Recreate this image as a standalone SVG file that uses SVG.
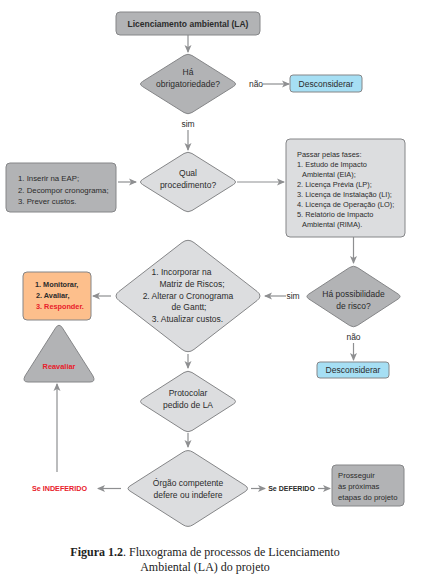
<svg xmlns="http://www.w3.org/2000/svg" width="427" height="581" viewBox="0 0 427 581">
<defs>
<marker id="ah" markerWidth="8" markerHeight="8" refX="7" refY="4" orient="auto" markerUnits="userSpaceOnUse">
<path d="M0,0.5 L8,4 L0,7.5 L2,4 Z" fill="#8e8f91"/>
</marker>
</defs>
<style>
.dk{fill:#b2b3b5;stroke:#858688;stroke-width:1}
.lt{fill:#dcdddf;stroke:#858688;stroke-width:1}
.bl{fill:#a6dff4;stroke:#858688;stroke-width:1}
.or{fill:#fdbf8c;stroke:#858688;stroke-width:1}
.t{font-family:"Liberation Sans",Arial,sans-serif;font-size:8.5px;fill:#2b2b2b}
.m{text-anchor:middle}
.b{font-weight:bold}
.r{fill:#e8202a}
.sL{font-size:7.8px}
.sP{font-size:7.7px}
.sR{font-size:7.4px}
.sO{font-size:7.3px}
.sD{font-size:7px}
.sI{font-size:7.2px}
.c{stroke:#8e8f91;stroke-width:1.2;fill:none;marker-end:url(#ah)}
.cap{font-family:"Liberation Serif","Times New Roman",serif;font-size:12px;fill:#222}
</style>
<rect width="427" height="581" fill="#ffffff"/>

<g id="connectors">
<line class="c" x1="188" y1="35" x2="188" y2="52"/>
<line class="c" x1="263" y1="84" x2="289" y2="84"/>
<line class="c" x1="188" y1="130" x2="188" y2="150"/>
<line class="c" x1="118" y1="182" x2="136" y2="182"/>
<line class="c" x1="237" y1="182" x2="284" y2="182"/>
<line class="c" x1="353.5" y1="237" x2="353.5" y2="263"/>
<line class="c" x1="286" y1="296" x2="265" y2="296"/>
<line class="c" x1="111" y1="296" x2="93" y2="296"/>
<line class="c" x1="353.5" y1="343" x2="353.5" y2="360"/>
<line class="c" x1="188" y1="354" x2="188" y2="368"/>
<line class="c" x1="188" y1="433" x2="188" y2="447"/>
<line class="c" x1="121" y1="488.5" x2="98" y2="488.5"/>
<line class="c" x1="57" y1="472" x2="57" y2="384"/>
<line class="c" x1="251" y1="488.5" x2="265" y2="488.5"/>
<line class="c" x1="318" y1="488.5" x2="330" y2="488.5"/>
<text class="t m" x="256" y="87">não</text>
<text class="t m" x="188" y="127">sim</text>
<text class="t m" x="293" y="299">sim</text>
<text class="t m" x="353.5" y="340">não</text>
<text class="t m b r sI" x="59.5" y="491">Se INDEFERIDO</text>
<text class="t m b sD" x="291.5" y="491">Se DEFERIDO</text>
</g>

<g id="start">
<rect class="dk" x="116" y="12" width="144" height="23" rx="4"/>
<text class="t m b" x="188" y="27">Licenciamento ambiental (LA)</text>
</g>

<g id="d-obrig">
<path class="dk" d="M184,55.5 Q188,53 192,55.5 L233.5,81.5 Q237.5,84 233.5,86.5 L192,112.5 Q188,115 184,112.5 L142.5,86.5 Q138.5,84 142.5,81.5 Z"/>
<text class="t m" x="188" y="75">Há</text>
<text class="t m" x="188" y="87">obrigatoriedade?</text>
</g>

<g id="descons1">
<rect class="bl" x="290" y="75" width="72" height="17" rx="3"/>
<text class="t m" x="326" y="86.5">Desconsiderar</text>
</g>

<g id="d-proc">
<path class="lt" d="M184,153.5 Q188,151 192,153.5 L233.5,179.5 Q237.5,182 233.5,184.5 L192,210.5 Q188,213 184,210.5 L142.5,184.5 Q138.5,182 142.5,179.5 Z"/>
<text class="t m" x="188" y="176">Qual</text>
<text class="t m" x="188" y="188">procedimento?</text>
</g>

<g id="box-eap">
<rect class="dk" x="6" y="163" width="110" height="49" rx="4"/>
<text class="t sL" x="18" y="181">1. Inserir na EAP;</text>
<text class="t sL" x="18" y="192.5">2. Decompor cronograma;</text>
<text class="t sL" x="18" y="204">3. Prever custos.</text>
</g>

<g id="box-fases">
<rect class="lt" x="286" y="139" width="119" height="98" rx="4"/>
<text class="t sR" x="297" y="157">Passar pelas fases:</text>
<text class="t sR" x="297" y="167">1. Estudo de Impacto</text>
<text class="t sR" x="302" y="177">Ambiental (EIA);</text>
<text class="t sR" x="297" y="186.5">2. Licença Prévia (LP);</text>
<text class="t sR" x="297" y="196.5">3. Licença de Instalação (LI);</text>
<text class="t sR" x="297" y="206.5">4. Licença de Operação (LO);</text>
<text class="t sR" x="297" y="216.5">5. Relatório de Impacto</text>
<text class="t sR" x="302" y="226.5">Ambiental (RIMA).</text>
</g>

<g id="d-risco">
<path class="dk" d="M349.6,267.5 Q353.5,265 357.4,267.5 L398.1,294 Q402,296.5 398.1,299 L357.4,325.5 Q353.5,328 349.6,325.5 L308.9,299 Q305,296.5 308.9,294 Z"/>
<text class="t m" x="353.5" y="297">Há possibilidade</text>
<text class="t m" x="353.5" y="309">de risco?</text>
</g>

<g id="descons2">
<rect class="bl" x="317" y="362" width="72" height="16" rx="3"/>
<text class="t m" x="353" y="373">Desconsiderar</text>
</g>

<g id="d-matriz">
<path class="lt" d="M182,242.6 Q188,238 194,242.6 L257,291.4 Q263,296 257,300.6 L194,349.4 Q188,354 182,349.4 L119,300.6 Q113,296 119,291.4 Z"/>
<text class="t m" x="181.5" y="275">1. Incorporar na</text>
<text class="t m" x="192" y="287">Matriz de Riscos;</text>
<text class="t m" x="188" y="299">2. Alterar o Cronograma</text>
<text class="t m" x="189" y="310">de Gantt;</text>
<text class="t m" x="187.5" y="322">3. Atualizar custos.</text>
</g>

<g id="box-monitorar">
<rect class="or" x="23" y="272" width="68" height="48" rx="4"/>
<text class="t b sO" x="35" y="287">1. Monitorar,</text>
<text class="t b sO" x="36" y="298">2. Avaliar,</text>
<text class="t b r sO" x="36" y="309">3. Responder.</text>
</g>

<g id="reavaliar">
<path class="dk" d="M55.5,328 Q59,322.5 62.5,328 L93,376 Q96,382 90,382 L28,382 Q22,382 25,376 Z"/>
<text class="t m b r sR" x="59" y="369">Reavaliar</text>
</g>

<g id="d-protocolar">
<path class="lt" d="M184,372.5 Q188,370 192,372.5 L233.5,399 Q237.5,401.5 233.5,404 L192,430.5 Q188,433 184,430.5 L142.5,404 Q138.5,401.5 142.5,399 Z"/>
<text class="t m" x="188" y="396">Protocolar</text>
<text class="t m" x="188" y="408">pedido de LA</text>
</g>

<g id="d-orgao">
<path class="lt" d="M183,452.2 Q188,449 193,452.2 L245,485.3 Q250,488.5 245,491.7 L193,524.8 Q188,528 183,524.8 L131,491.7 Q125,488.5 131,485.3 Z"/>
<text class="t m" x="188" y="486">Órgão competente</text>
<text class="t m" x="188" y="497.5">defere ou indefere</text>
</g>

<g id="box-prosseguir">
<rect class="dk" x="332" y="465" width="72" height="41" rx="4"/>
<text class="t sP" x="338" y="478">Prosseguir</text>
<text class="t sP" x="338" y="489">às próximas</text>
<text class="t sP" x="338" y="500">etapas do projeto</text>
</g>

<g id="caption">
<text class="cap" x="205" y="556" text-anchor="middle"><tspan font-weight="bold">Figura 1.2</tspan>. Fluxograma de processos de Licenciamento</text>
<text class="cap" x="205" y="571" text-anchor="middle">Ambiental (LA) do projeto</text>
</g>
</svg>
